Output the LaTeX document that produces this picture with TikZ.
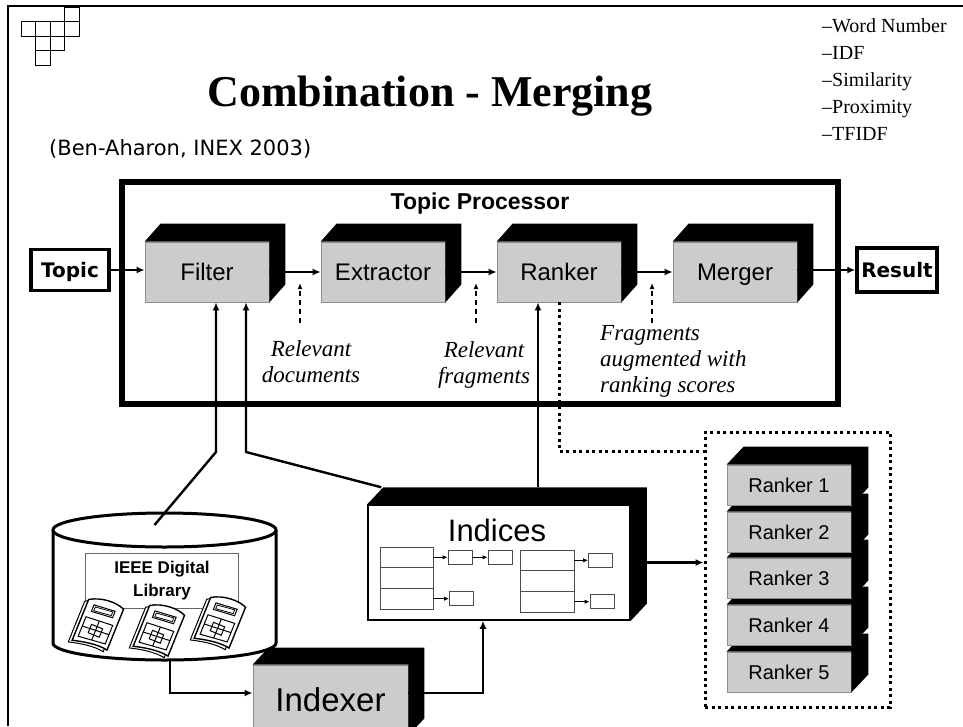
\documentclass[tikz,border=0pt]{standalone}
\usepackage{fontspec}
\setmainfont{Liberation Serif}
\setsansfont{Liberation Sans}
\newfontfamily\comicfont{DejaVu Sans}
\usetikzlibrary{arrows.meta}

\newcommand\fsz[2]{\fontsize{#1}{#2}\selectfont}
% black top and right faces of a raised box, drawn from the node's corners
\newcommand\boxsides[3]{\fill[black] (#1.north west) -- ++(#2,-#3) -- ([shift={(#2,-#3)}]#1.north east) -- ([shift={(#2,-#3)}]#1.south east) -- (#1.south east) -- (#1.north east) -- cycle;}

\tikzset{docicon/.pic={
  \filldraw[fill=white, line width=1pt] (-19,27) -- (-19,-17) .. controls (-8,-24) and (8,-25) .. (17,-21) -- (17,23) .. controls (6,21) and (-8,24) .. (-19,27) -- cycle;
  \filldraw[fill=white, line width=1.4pt] (-16,24) -- (-16,-20) .. controls (-5,-27) and (11,-28) .. (20,-24) -- (20,20) .. controls (9,18) and (-5,21) .. (-16,24) -- cycle;
  \draw[line width=1pt] (-9,-17) -- (13,-19) -- (13,-12) -- (-9,-10) -- cycle;
  \draw[line width=0.8pt] (-7,-15.5) -- (11,-17.5) -- (11,-13.5) -- (-7,-11.5) -- cycle;
  \draw[line width=1pt] (-12,-3) -- (16,-5) -- (16,15) -- (-12,18) -- cycle;
  \draw[line width=1pt] (-12,7) -- (16,5);
  \draw[line width=1pt] (2,-4) -- (2,16.5);
  \draw[line width=1pt] (-4,2) rectangle (8,11);
}}

\begin{document}
\begin{tikzpicture}[x=1pt,y=-1pt,
  frontbox/.style={draw=black!45, line width=0.8pt, fill=black!20, inner sep=0pt,
    minimum width=124pt, minimum height=60pt, font=\sffamily\fsz{24}{28},
    text height=17.2pt, text depth=0pt},
  rankbox/.style={frontbox, minimum height=40pt, font=\sffamily\fsz{20}{24},
    text height=14.3pt},
  endbox/.style={draw, line width=3.5pt, inner sep=0pt, font=\comicfont\bfseries\fsz{20}{24},
    text height=14.6pt, text depth=0pt},
  conn/.style={line width=2.4pt},
  arr/.style={conn, -{Latex[length=8pt,width=7pt]}},
  hint/.style={line width=1.5pt, dash pattern=on 5pt off 4pt, -{Latex[length=6pt,width=5pt]}},
  note/.style={font=\itshape\fsz{23}{26}, inner sep=0pt},
  dotline/.style={line width=3pt, dash pattern=on 3pt off 3.5pt},
  cell/.style={draw=black!70, line width=0.9pt, inner sep=0pt},
  sbox/.style={cell, minimum width=24pt, minimum height=14pt},
  small/.style={line width=1.1pt, -{Latex[length=5pt,width=4.5pt]}},
]
\useasboundingbox (0,0) rectangle (963,726);

% slide frame and corner ornament
\draw[line width=2pt] (7.5,726) -- (7.5,6) -- (963,6);
\foreach \c/\r in {3/0,0/1,1/1,2/1,3/1,1/2,2/2,1/3}
  \draw[line width=1pt] (21+14.5*\c, 7+14.5*\r) rectangle ++(14.5,14.5);

% headings
\node[font=\bfseries\fsz{44}{48}, anchor=base, inner sep=0pt] (title) at (430,106) {Combination - Merging};
\node[font=\comicfont\fsz{21}{24}, anchor=base west, inner sep=0pt] (cite) at (49,155) {(Ben-Aharon, INEX 2003)};
\foreach \t [count=\i from 0] in {Word Number,IDF,Similarity,Proximity,TFIDF}
  \node[anchor=base west, inner sep=0pt, font=\fsz{20}{24}] (m\i) at (822,32+27*\i) {–\t};

% topic processor
\node[draw, line width=6pt, minimum width=716pt, minimum height=222pt, inner sep=0pt] (tp) at (480,293) {};
\node[font=\sffamily\bfseries\fsz{23}{26}] (tplabel) at (480,204) {Topic Processor};

\node[frontbox] (filter) at (207,272) {Filter}; \boxsides{filter}{16}{18}
\node[frontbox] (extractor) at (383,272) {Extractor}; \boxsides{extractor}{16}{18}
\node[frontbox] (ranker) at (559,272) {Ranker}; \boxsides{ranker}{16}{18}
\node[frontbox] (merger) at (735,272) {Merger}; \boxsides{merger}{16}{18}

\node[endbox, minimum width=78pt, minimum height=41pt] (topic) at (70,270) {Topic};
\node[endbox, minimum width=80pt, minimum height=44pt] (result) at (897,270) {Result};

\draw[arr] (topic.east) -- (topic.east -| filter.west);
\draw[arr] (filter.east) -- (extractor.west);
\draw[arr] (extractor.east) -- (ranker.west);
\draw[arr] (ranker.east) -- (merger.west);
\draw[arr] (merger.east |- result.west) -- (result.west);

\node[note, align=center] (n1) at (311,362) {Relevant\\documents};
\node[note, align=center] (n2) at (484,364.5) {Relevant\\fragments};
\node[note, align=left, anchor=north west] (n3) at (600,325) {Fragments\\augmented with\\ranking scores};
\coordinate (h1) at (300,323);
\coordinate (h2) at (476,323);
\coordinate (h3) at (652,323);
\foreach \h in {h1,h2,h3} \draw[hint] (\h) -- ++(0,-40);

% digital library
\coordinate (lib) at (164.5,530);
\filldraw[fill=white, line width=3pt] (53,530) -- (53,643)
  arc[start angle=180, end angle=360, x radius=111.5pt, y radius=17pt] -- (276,530);
\draw[fill=white, line width=3pt] (lib) ellipse [x radius=111.5pt, y radius=17pt];
\node[draw=black!60, line width=1pt, minimum width=153pt, minimum height=55pt, inner sep=0pt] (libframe) at (161.5,580.5) {};
\node[font=\sffamily\bfseries\fsz{17}{23}, align=center, inner sep=0pt] (liblabel) at (162,581) {IEEE Digital\\Library};
\path (96,624) pic[rotate=-22] {docicon};
\path (157,630) pic[rotate=-22] {docicon};
\path (218,622) pic[rotate=-22] {docicon};

% indices
\node[draw, fill=white, line width=1.5pt, minimum width=262pt, minimum height=115pt, inner sep=0pt] (indices) at (499,562.5) {};
\boxsides{indices}{16}{17}
\node[font=\sffamily\fsz{31}{34}] (idxlabel) at (497,530) {Indices};
\node[cell, minimum width=53pt, minimum height=20.7pt] (la1) at (406.5,557.3) {};
\node[cell, minimum width=53pt, minimum height=20.7pt] (la2) at (406.5,578) {};
\node[cell, minimum width=53pt, minimum height=20.7pt] (la3) at (406.5,598.7) {};
\node[cell, minimum width=54pt, minimum height=20.7pt] (ra1) at (547,560.3) {};
\node[cell, minimum width=54pt, minimum height=20.7pt] (ra2) at (547,581) {};
\node[cell, minimum width=54pt, minimum height=20.7pt] (ra3) at (547,601.7) {};
\node[sbox] (sa) at (460,557.3) {};
\node[sbox] (sb) at (500,557.3) {};
\node[sbox] (sc) at (461.5,598.7) {};
\node[sbox] (sd) at (600.5,560.3) {};
\node[sbox] (se) at (602,601.7) {};
\draw[small] (la1.east) -- (sa.west);
\draw[small] (sa.east) -- (sb.west);
\draw[small] (la3.east) -- (sc.west);
\draw[small] (ra1.east) -- (sd.west);
\draw[small] (ra3.east) -- (se.west);

% indexer
\node[frontbox, minimum width=155pt, minimum height=70pt, font=\sffamily\fsz{33}{36}, text height=23.6pt] (indexer) at (330.5,700) {Indexer};
\boxsides{indexer}{16}{17}

% ranker pool
\foreach \i/\y in {5/672,4/625,3/578,2/532,1/485} {
  \node[rankbox] (r\i) at (789,\y) {Ranker \i};
  \boxsides{r\i}{17}{18}
}
\node[draw, dotline, minimum width=185pt, minimum height=275pt, inner sep=0pt] (pool) at (797.5,569.5) {};

% connectors
\coordinate (kL) at (216,452);
\coordinate (kR) at (246,452);
\draw[arr] ([shift={(-10,-5)}]lib) -- (kL) -- (kL |- filter.south);
\draw[arr] ([shift={(14,-17)}]indices.north west) -- (kR) -- (kR |- filter.south);
\coordinate (iu) at ([shift={(39,-17)}]indices.north);
\draw[arr] (iu) -- (iu |- ranker.south);
\coordinate (bend) at (559,451);
\draw[dotline] (ranker.south) -- (bend) -- (bend -| pool.west);
\draw[arr] ([xshift=16pt]indices.east) -- (indices.east -| pool.west);
\coordinate (lb) at (170,693);
\draw[arr] ([shift={(5.5,130)}]lib) -- (lb) -- (lb -| indexer.west);
\coordinate (ib) at (483,693);
\draw[arr] (ib -| indexer.east) -- (ib) -- (ib |- indices.south);
\end{tikzpicture}
\end{document}
